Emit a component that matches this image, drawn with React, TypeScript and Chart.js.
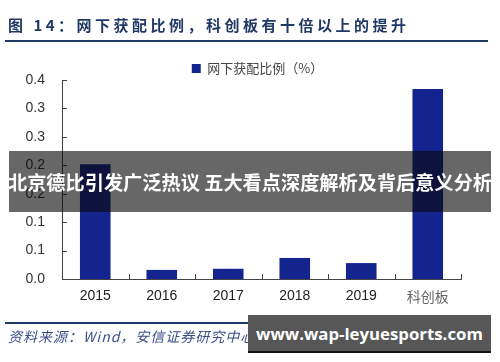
import React, { useEffect, useRef } from "react";
import { Chart, registerables } from "chart.js";

Chart.register(...registerables);

const categories = ["2015", "2016", "2017", "2018", "2019", "科创板"];
const seriesName = "网下获配比例（%）";
const seriesValues = [0.202, 0.016, 0.018, 0.037, 0.028, 0.334];
const yTickLabels = ["0.0", "0.1", "0.1", "0.2", "0.2", "0.3", "0.3", "0.4"];
const titleText = "图 14：网下获配比例，科创板有十倍以上的提升";
const sourceText = "资料来源：Wind，安信证券研究中心";
const bannerText = "北京德比引发广泛热议 五大看点深度解析及背后意义分析";
const watermarkText = "www.wap-leyuesports.com";

const BAR_COLOR = "#14248f";
const AXIS_COLOR = "#444444";

const innerTicks = {
  id: "innerTicks",
  afterDraw(chart: any) {
    const { ctx, chartArea, scales } = chart;
    const x = scales.x;
    const y = scales.y;
    ctx.save();
    ctx.strokeStyle = AXIS_COLOR;
    ctx.lineWidth = 1;
    ctx.beginPath();
    y.ticks.forEach((_: any, i: number) => {
      const py = Math.round(y.getPixelForTick(i)) + 0.5;
      ctx.moveTo(chartArea.left, py);
      ctx.lineTo(chartArea.left + 5, py);
    });
    const n = categories.length;
    const half = (x.getPixelForValue(1) - x.getPixelForValue(0)) / 2;
    for (let i = 0; i < n; i++) {
      const px = Math.round(x.getPixelForValue(i) + half) + 0.5;
      ctx.moveTo(px, chartArea.bottom);
      ctx.lineTo(px, chartArea.bottom - 5);
    }
    ctx.stroke();
    ctx.restore();
  },
};

const legendHeightFix = {
  id: "legendHeightFix",
  beforeLayout(chart: any) {
    const lg = chart.legend;
    if (lg && !lg.__patched) {
      const orig = lg.fit.bind(lg);
      lg.fit = function () {
        orig();
        this.height = 22;
      };
      lg.__patched = true;
    }
  },
  afterLayout(chart: any) {
    const lg = chart.legend;
    if (lg) {
      lg.left -= 4;
      lg.right -= 4;
    }
  },
};

export default function App() {
  const ref = useRef<HTMLCanvasElement>(null);
  useEffect(() => {
    if (!ref.current) return;
    const chart = new Chart(ref.current, {
      type: "bar",
      data: {
        labels: categories,
        datasets: [
          {
            label: seriesName,
            data: seriesValues,
            backgroundColor: BAR_COLOR,
            borderWidth: 0,
            categoryPercentage: 1,
            barPercentage: 0.46,
          },
        ],
      },
      plugins: [innerTicks, legendHeightFix],
      options: {
        responsive: false,
        animation: false,
        layout: { padding: { left: 10, right: 39, top: 58, bottom: 53 } },
        plugins: {
          legend: {
            display: true,
            position: "top",
            fullSize: false,
            labels: {
              boxWidth: 9,
              boxHeight: 9,
              padding: 4,
              color: "#444",
              font: { family: "Noto Sans CJK SC", size: 13 },
            },
          },
          tooltip: { enabled: false },
          title: { display: false },
        },
        scales: {
          x: {
            grid: { display: false, drawTicks: false },
            border: { display: true, color: AXIS_COLOR, width: 1 },
            afterFit: (s: any) => {
              s.height = 30;
            },
            ticks: {
              padding: 9,
              color: (c: any) => (c.index === 5 ? "#666" : "#222"),
              font: (c: any) =>
                c.index === 5
                  ? { family: "Noto Sans CJK SC", size: 14 }
                  : { family: "Liberation Sans", size: 14 },
            },
          },
          y: {
            min: 0,
            max: 0.35,
            grid: { display: false, drawTicks: false },
            border: { display: true, color: AXIS_COLOR, width: 1 },
            afterFit: (s: any) => {
              s.width = 52;
            },
            ticks: {
              stepSize: 0.05,
              padding: 17,
              color: "#333",
              font: { family: "Liberation Sans", size: 14 },
              callback: (_v: any, i: number) => yTickLabels[i],
            },
          },
        },
      },
    });
    return () => chart.destroy();
  }, []);

  return (
    <div
      style={{
        position: "fixed",
        left: 0,
        top: 0,
        width: 500,
        height: 362,
        background: "#fff",
        overflow: "hidden",
      }}
    >
      <canvas ref={ref} width={500} height={362} style={{ position: "absolute", left: 0, top: 0 }} />
      <div
        style={{
          position: "absolute",
          left: 8,
          top: 14,
          fontFamily: "'Noto Sans CJK SC'",
          fontWeight: 700,
          fontSize: 15,
          letterSpacing: 3.5,
          color: "#1f3864",
          whiteSpace: "nowrap",
          lineHeight: "22px",
        }}
      >
        {titleText}
      </div>
      <div style={{ position: "absolute", left: 5, top: 40, width: 483, height: 2, background: "#1f3864" }} />
      <div style={{ position: "absolute", left: 5, top: 322, width: 483, height: 1.5, background: "#1f3864" }} />
      <div
        style={{
          position: "absolute",
          left: 8,
          top: 327,
          fontFamily: "'Noto Sans CJK SC'",
          fontStyle: "italic",
          fontSize: 14,
          letterSpacing: 1,
          color: "#3b4f86",
          whiteSpace: "nowrap",
          lineHeight: "18px",
        }}
      >
        {sourceText}
      </div>
      <div
        style={{
          position: "absolute",
          left: 9,
          top: 151,
          width: 482,
          height: 61,
          background: "rgba(10,10,10,0.62)",
          display: "flex",
          alignItems: "center",
          justifyContent: "center",
        }}
      >
        <span
          style={{
            fontFamily: "'Noto Sans CJK SC'",
            fontWeight: 700,
            fontSize: 19.2,
            color: "#fff",
            whiteSpace: "nowrap",
          }}
        >
          {bannerText}
        </span>
      </div>
      <div
        style={{
          position: "absolute",
          left: 248,
          top: 315,
          width: 243,
          height: 36,
          background: "#575757",
          borderBottom: "2px solid #111",
          display: "flex",
          alignItems: "center",
          justifyContent: "center",
        }}
      >
        <span
          style={{
            fontFamily: "'Open Sans'",
            fontWeight: 700,
            fontSize: 16.8,
            color: "#fff",
            whiteSpace: "nowrap",
          }}
        >
          {watermarkText}
        </span>
      </div>
    </div>
  );
}
